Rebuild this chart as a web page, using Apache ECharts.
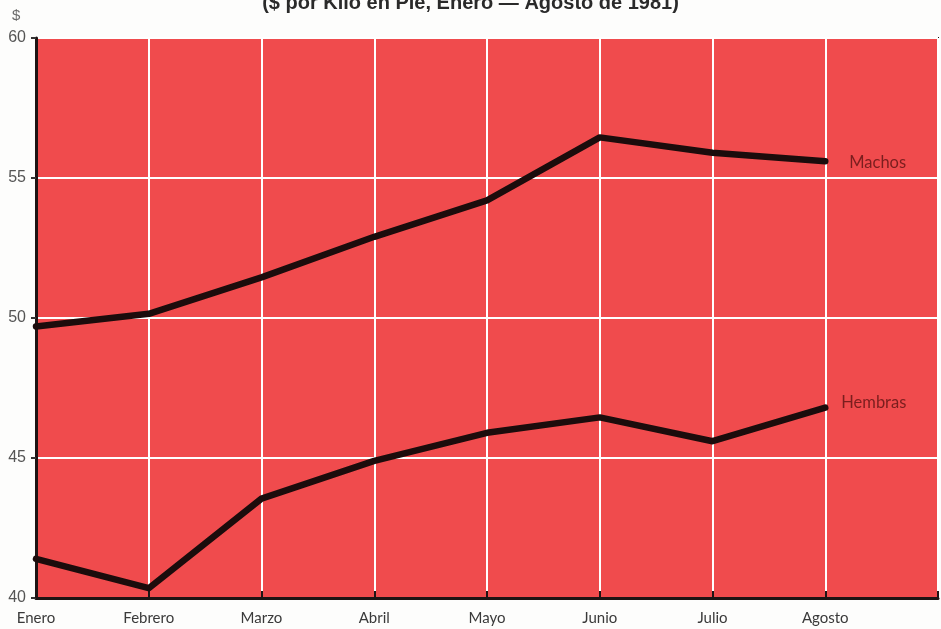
<!DOCTYPE html>
<html>
<head>
<meta charset="utf-8">
<script src="https://cdn.jsdelivr.net/npm/echarts@6/dist/echarts.min.js"></script>
<style>
  html, body { margin: 0; padding: 0; background: #fdfdfc; }
  #chart { width: 941px; height: 629px; }
</style>
</head>
<body>
<div id="chart"></div>
<script>
// Months on the x axis; the trailing blank slot leaves room for the series labels
const months = ['Enero', 'Febrero', 'Marzo', 'Abril', 'Mayo', 'Junio', 'Julio', 'Agosto', ''];

// Live-weight price, $ per kilo, Jan–Aug 1981
const machos  = [49.7, 50.15, 51.45, 52.9, 54.2, 56.45, 55.9, 55.6];
const hembras = [41.4, 40.35, 43.55, 44.9, 45.9, 46.45, 45.6, 46.8];

const yTicks = { min: 40, max: 60, interval: 5 };

const chart = echarts.init(document.getElementById('chart'), null, { renderer: 'canvas' });

const lineStyle = { color: '#1c0c0c', width: 6.5, cap: 'round', join: 'round' };
const labelStyle = {
  show: true,
  formatter: '{a}',
  color: '#7a1e1e',
  fontFamily: 'Lato, "Open Sans", sans-serif',
  fontSize: 16.5
};

chart.setOption({
  animation: false,
  backgroundColor: '#fdfdfc',
  title: {
    text: '($ por Kilo en Pie, Enero — Agosto de 1981)',
    left: 'center',
    top: -7,
    padding: 0,
    textStyle: { fontFamily: '"Liberation Sans", Arial, sans-serif', fontSize: 20, fontWeight: 'bold', color: '#2a2a2a' }
  },
  graphic: [{
    type: 'text', left: 12, top: 8,
    style: { text: '$', fill: '#6a6a6a', font: '15px "Liberation Sans", sans-serif' }
  }],
  grid: {
    left: 36, right: 1, top: 38, bottom: 31,
    show: true,
    backgroundColor: '#f04b4d',
    borderColor: '#1e1414',
    borderWidth: 2
  },
  xAxis: {
    type: 'category',
    data: months,
    boundaryGap: false,
    axisLine: { lineStyle: { color: '#1e1414', width: 3 } },
    axisTick: { show: true, inside: true, length: 7, lineStyle: { color: '#1e1414', width: 2 } },
    axisLabel: { color: '#3a3a3a', fontSize: 15, margin: 13, fontFamily: 'Lato, "Open Sans", sans-serif' },
    splitLine: { show: true, lineStyle: { color: '#ffffff', width: 2 } }
  },
  yAxis: {
    type: 'value',
    min: yTicks.min, max: yTicks.max, interval: yTicks.interval,
    axisLine: { show: true, lineStyle: { color: '#1e1414', width: 3 } },
    axisTick: { show: true, length: 5, lineStyle: { color: '#333', width: 2 } },
    axisLabel: { color: '#555', fontSize: 16, margin: 10, fontFamily: '"Liberation Sans", Arial, sans-serif' },
    splitLine: { show: true, lineStyle: { color: '#ffffff', width: 2 } }
  },
  series: [
    {
      name: 'Machos', type: 'line', data: machos,
      symbol: 'none', lineStyle: lineStyle,
      endLabel: Object.assign({}, labelStyle, { distance: 24, offset: [0, 1] })
    },
    {
      name: 'Hembras', type: 'line', data: hembras,
      symbol: 'none', lineStyle: lineStyle,
      endLabel: Object.assign({}, labelStyle, { distance: 16, offset: [0, -5] })
    }
  ]
});
</script>
</body>
</html>
